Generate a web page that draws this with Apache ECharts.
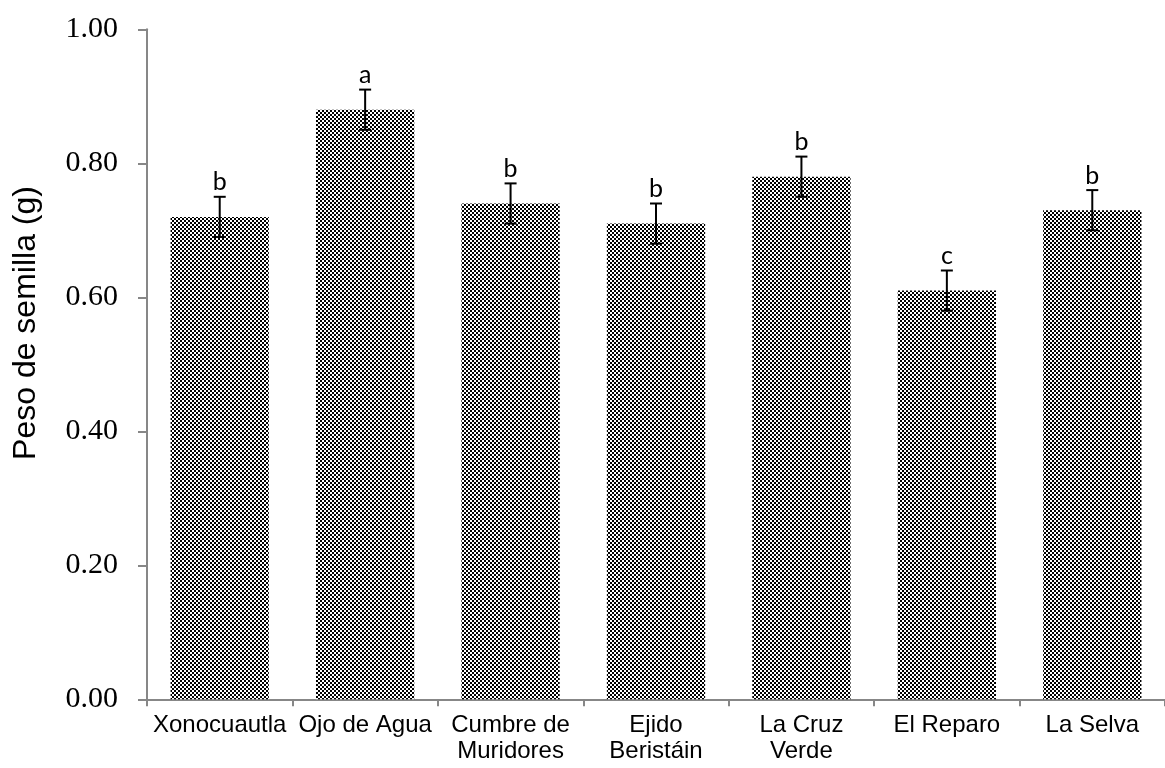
<!DOCTYPE html>
<html>
<head>
<meta charset="utf-8">
<script src="https://cdn.jsdelivr.net/npm/echarts@6/dist/echarts.min.js"></script>
<style>
  html, body { margin: 0; padding: 0; background: #fff; }
  #chart { width: 1165px; height: 768px; }
</style>
</head>
<body>
<div id="chart"></div>
<script>
// 数据
const categories = ['Xonocuautla', 'Ojo de Agua', 'Cumbre de\nMuridores', 'Ejido\nBeristáin', 'La Cruz\nVerde', 'El Reparo', 'La Selva'];
const means = [0.72, 0.88, 0.74, 0.71, 0.78, 0.61, 0.73];
const errors = [0.03, 0.03, 0.03, 0.03, 0.03, 0.03, 0.03];
const letters = ['b', 'a', 'b', 'b', 'b', 'c', 'b'];
const yTicks = { min: 0, max: 1, interval: 0.2 };

// 棋盘格填充
function makePattern() {
  const c = document.createElement('canvas');
  c.width = 4; c.height = 4;
  const ctx = c.getContext('2d');
  ctx.fillStyle = '#fff';
  ctx.fillRect(0, 0, 4, 4);
  ctx.fillStyle = '#000';
  ctx.fillRect(0, 0, 2, 2);
  ctx.fillRect(2, 2, 2, 2);
  return c;
}

const errData = means.map((m, i) => [i, m - errors[i], m + errors[i]]);

const axisGray = '#878787';

const chart = echarts.init(document.getElementById('chart'), null, { devicePixelRatio: 1 });
chart.setOption({
  animation: false,
  grid: { left: 147, right: -7.5, top: 29.3, bottom: 68.7, containLabel: false },
  graphic: [{
    type: 'text',
    x: 26, y: 323,
    rotation: Math.PI / 2,
    style: {
      text: 'Peso de semilla (g)',
      fontFamily: '"Liberation Sans", Arial, sans-serif',
      fontSize: 32,
      fill: '#000',
      align: 'center',
      verticalAlign: 'middle'
    }
  }],
  xAxis: {
    type: 'category',
    data: categories,
    boundaryGap: true,
    axisLine: { show: true, lineStyle: { color: axisGray, width: 2 } },
    axisTick: { show: true, length: 7, lineStyle: { color: axisGray, width: 2 } },
    axisLabel: {
      interval: 0,
      margin: 13,
      color: '#000',
      fontFamily: '"Liberation Sans", Arial, sans-serif',
      fontSize: 24,
      lineHeight: 26
    }
  },
  yAxis: {
    type: 'value',
    min: yTicks.min,
    max: yTicks.max,
    interval: yTicks.interval,
    splitLine: { show: false },
    axisLine: { show: true, lineStyle: { color: axisGray, width: 2 } },
    axisTick: { show: true, length: 9, lineStyle: { color: axisGray, width: 2 } },
    axisLabel: {
      margin: 29,
      color: '#000',
      fontFamily: '"Liberation Serif", "Times New Roman", serif',
      fontSize: 30,
      formatter: v => v.toFixed(2)
    }
  },
  series: [
    {
      type: 'bar',
      data: means,
      barWidth: '67.6%',
      itemStyle: { color: { image: makePattern(), repeat: 'repeat' } }
    },
    {
      type: 'custom',
      data: errData,
      z: 10,
      renderItem: function (params, api) {
        const i = api.value(0);
        const hi = api.coord([i, api.value(2)]);
        const lo = api.coord([i, api.value(1)]);
        const half = 6;
        const st = { stroke: '#000', lineWidth: 2 };
        return {
          type: 'group',
          children: [
            { type: 'line', shape: { x1: hi[0], y1: hi[1], x2: lo[0], y2: lo[1] }, style: st },
            { type: 'line', shape: { x1: hi[0] - half, y1: hi[1], x2: hi[0] + half, y2: hi[1] }, style: st },
            { type: 'line', shape: { x1: lo[0] - half, y1: lo[1], x2: lo[0] + half, y2: lo[1] }, style: st },
            {
              type: 'text',
              x: hi[0], y: hi[1] - 2,
              style: {
                text: letters[params.dataIndex],
                fontFamily: 'Lato, "Open Sans", sans-serif',
                fontSize: 25,
                fill: '#000',
                align: 'center',
                verticalAlign: 'bottom'
              }
            }
          ]
        };
      }
    }
  ]
});
</script>
</body>
</html>
